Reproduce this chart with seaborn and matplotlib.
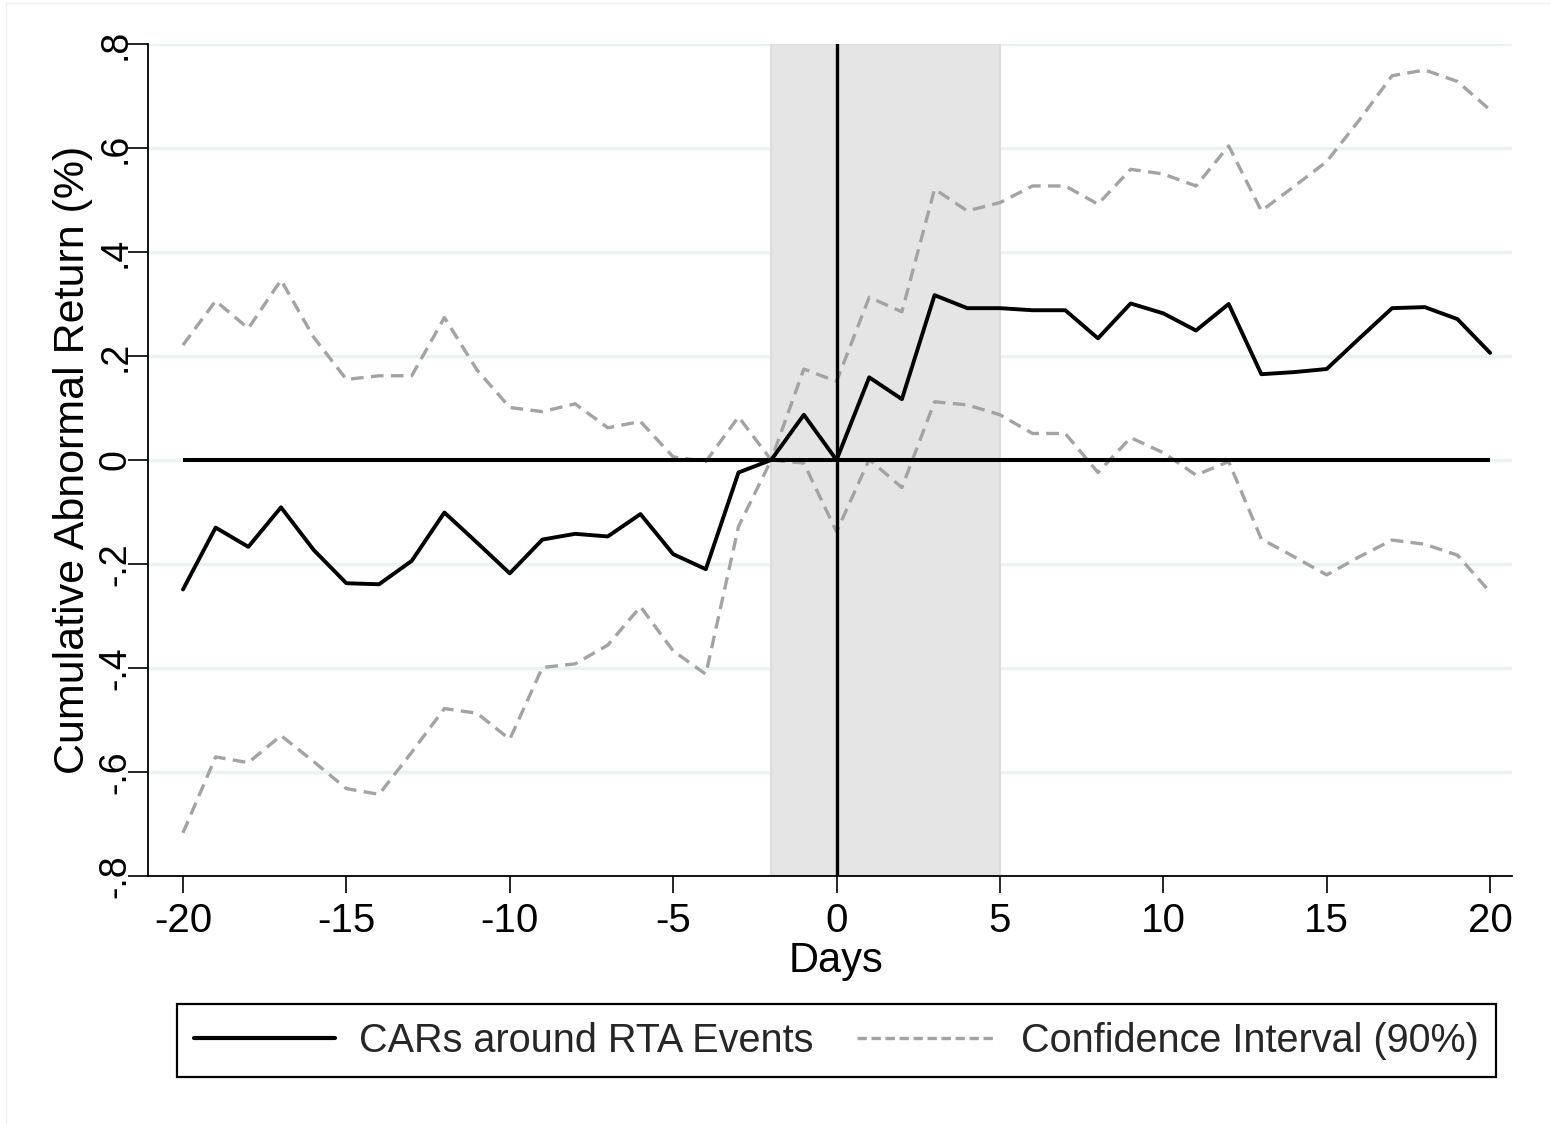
import matplotlib
matplotlib.use("Agg")
import matplotlib.pyplot as plt
from matplotlib.lines import Line2D
import numpy as np
import pandas as pd
import seaborn as sns

# Event window in trading days relative to the RTA announcement
days = list(range(-20, 21))

# Cumulative abnormal returns (%)
car = [-0.249, -0.130, -0.167, -0.091, -0.173, -0.237, -0.239, -0.194, -0.101, -0.159,
       -0.218, -0.153, -0.142, -0.147, -0.104, -0.181, -0.210, -0.024, 0.000, 0.087,
       0.000, 0.159, 0.117, 0.317, 0.292, 0.292, 0.288, 0.288, 0.234, 0.301,
       0.282, 0.249, 0.300, 0.165, 0.169, 0.175, 0.234, 0.292, 0.294, 0.271,
       0.206]

# 90% confidence bounds
ci_upper = [0.221, 0.306, 0.253, 0.346, 0.236, 0.155, 0.162, 0.162, 0.274, 0.173,
            0.101, 0.093, 0.108, 0.062, 0.074, 0.006, -0.003, 0.083, 0.000, 0.175,
            0.151, 0.313, 0.285, 0.521, 0.479, 0.495, 0.527, 0.527, 0.492, 0.559,
            0.550, 0.527, 0.604, 0.479, 0.526, 0.574, 0.654, 0.739, 0.750, 0.728,
            0.673]
ci_lower = [-0.717, -0.571, -0.582, -0.530, -0.580, -0.632, -0.643, -0.562, -0.478, -0.487,
            -0.537, -0.399, -0.392, -0.356, -0.282, -0.367, -0.412, -0.128, 0.000, -0.006,
            -0.138, 0.001, -0.053, 0.112, 0.106, 0.087, 0.051, 0.051, -0.024, 0.043,
            0.014, -0.029, -0.003, -0.152, -0.186, -0.221, -0.186, -0.154, -0.162, -0.183,
            -0.254]

# Shaded announcement window
window_start, window_end = -2, 5

xticks = [-20, -15, -10, -5, 0, 5, 10, 15, 20]
yticks = [-0.8, -0.6, -0.4, -0.2, 0.0, 0.2, 0.4, 0.6, 0.8]
ytick_labels = ["-.8", "-.6", "-.4", "-.2", "0", ".2", ".4", ".6", ".8"]

series_labels = ["CARs around RTA Events", "Confidence Interval (90%)"]

df = pd.DataFrame({"day": days, "car": car, "upper": ci_upper, "lower": ci_lower})

sns.set_theme(style="ticks")
plt.rcParams["font.family"] = ["Liberation Sans", "DejaVu Sans"]

W, H = 1551, 1124
fig = plt.figure(figsize=(W / 100, H / 100), dpi=100)
ax = fig.add_axes([148 / W, 1 - 876 / H, (1512 - 148) / W, (876 - 44) / H])

black = "#000000"
grey = "#a3a3a3"
dash = (0, (3.8, 2.2))

# Horizontal grid
ax.set_axisbelow(True)
ax.yaxis.grid(True, color="#eaf2f3", lw=2.4, zorder=0)
ax.xaxis.grid(False)

# Announcement window shading
ax.axvspan(window_start, window_end, facecolor="#e5e5e5", edgecolor="#dcdcdc", lw=1.5, zorder=1)

# Confidence bounds
sns.lineplot(data=df, x="day", y="upper", ax=ax, color=grey, lw=2.4,
             linestyle=dash, zorder=3, legend=False)
sns.lineplot(data=df, x="day", y="lower", ax=ax, color=grey, lw=2.4,
             linestyle=dash, zorder=3, legend=False)

# Reference lines
ax.hlines(0, days[0], days[-1], color=black, lw=2.9, zorder=4)
ax.axvline(0, color=black, lw=2.4, zorder=4)

# Cumulative abnormal returns
sns.lineplot(data=df, x="day", y="car", ax=ax, color=black, lw=2.8, zorder=5, legend=False)

ax.set_xlim(-21.07, 20.67)
ax.set_ylim(-0.8, 0.8)
ax.set_xticks(xticks)
ax.set_xticklabels([str(t) for t in xticks])
ax.set_yticks(yticks)
ax.set_yticklabels(ytick_labels)

ax.tick_params(axis="y", length=14.5, width=1.2, color=black, labelsize=27,
               labelrotation=90, pad=-4, labelcolor=black)
ax.tick_params(axis="x", length=12, width=1.2, color=black, labelsize=29,
               pad=7, labelcolor=black)
for lbl in ax.get_yticklabels():
    lbl.set_va("center")

for side in ["top", "right"]:
    ax.spines[side].set_visible(False)
for side in ["left", "bottom"]:
    ax.spines[side].set_color(black)
    ax.spines[side].set_linewidth(1.3)

ax.set_xlabel("Days", fontsize=30, color=black)
ax.xaxis.set_label_coords((836 - 148) / 1364, -0.078)
ax.set_ylabel("Cumulative Abnormal Return (%)", fontsize=31, color=black)
ax.yaxis.set_label_coords((93 - 148) / 1364, 0.5)

handles = [Line2D([], [], color=black, lw=3.0),
           Line2D([], [], color=grey, lw=2.4, linestyle=(0, (2.8, 1.4)))]
leg = fig.legend(handles, series_labels, loc="center",
                 bbox_to_anchor=((174 + 1499) / 2 / W, 1 - 1040.5 / H),
                 ncol=2, fontsize=28.5, frameon=True, fancybox=False, framealpha=1,
                 edgecolor=black, handlelength=3.55, handletextpad=0.6,
                 columnspacing=1.1, borderpad=0.45)
leg.get_frame().set_linewidth(1.6)

# Faint outer border
fig.add_artist(Line2D([6 / W, 6 / W], [0, 1 - 3 / H], transform=fig.transFigure,
                      color="#edf3f3", lw=1))
fig.add_artist(Line2D([6 / W, 1], [1 - 3 / H, 1 - 3 / H], transform=fig.transFigure,
                      color="#edf3f3", lw=1))

fig.savefig("out.png", dpi=100, facecolor="white")
